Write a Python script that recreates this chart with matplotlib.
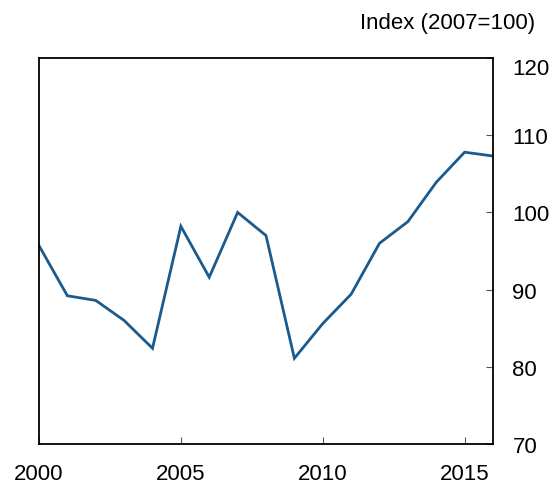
import matplotlib

matplotlib.use("Agg")
import matplotlib.pyplot as plt
from matplotlib.transforms import ScaledTranslation

years = list(range(2000, 2017))
index = [95.7, 89.2, 88.6, 86.0, 82.4, 98.2, 91.6, 100.0, 97.0,
         81.1, 85.6, 89.4, 96.0, 98.8, 103.9, 107.8, 107.3]
x_ticks = [2000, 2005, 2010, 2015]
y_ticks = [70, 80, 90, 100, 110, 120]

plt.rcParams["font.family"] = ["Liberation Sans", "DejaVu Sans"]

fig = plt.figure(figsize=(5.58, 4.89), dpi=100)
ax = fig.add_axes([39 / 558, 44 / 489, 454 / 558, 386 / 489])
ax.plot(years, index, color="#1b5a8c", lw=2.0, solid_joinstyle="miter")

ax.set_xlim(2000, 2016)
ax.set_ylim(70, 120)
ax.set_xticks(x_ticks)
ax.set_yticks(y_ticks)
ax.yaxis.tick_right()
ax.tick_params(axis="both", direction="in", length=5, width=0.8,
               color="#555555", labelsize=16)
ax.tick_params(axis="y", pad=14)
ax.tick_params(axis="x", pad=14)
for s in ax.spines.values():
    s.set_linewidth(1.3)

# top label sits a little below its tick in the original
fig.canvas.draw()
top = ax.get_yticklabels()[-1]
top.set_transform(top.get_transform() + ScaledTranslation(0, -0.08, fig.dpi_scale_trans))

fig.text(535 / 558, 1 - 23 / 489, "Index (2007=100)", ha="right",
         va="center", fontsize=16)

fig.savefig("out.png", dpi=100)
